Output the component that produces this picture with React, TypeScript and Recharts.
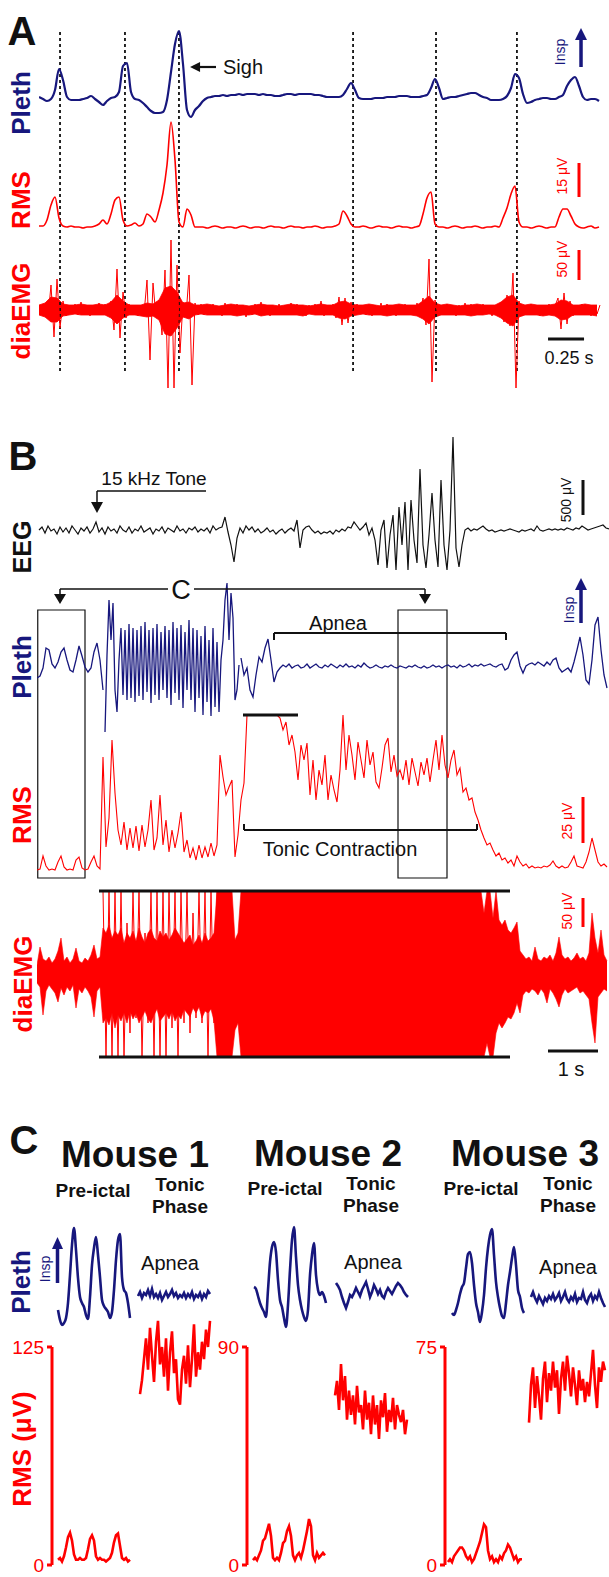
import React from 'react'
import {
  ComposedChart,
  LineChart,
  Line,
  Area,
  XAxis,
  YAxis,
  ReferenceLine,
  ReferenceArea,
  ReferenceDot,
} from 'recharts'

const NAVY = '#17177d'
const RED = '#ff0000'
const INK = '#111111'
const FONT = '"Liberation Sans", Arial, Helvetica, sans-serif'

type Pt = { t: number; v: number }
const seg = (t0: number, dt: number, vals: number[]): Pt[] => vals.map((v, i) => ({ t: t0 + i * dt, v }))
const segRange = (t0: number, dt: number, vals: [number, number][]) =>
  vals.map(([hi, lo], i) => ({ t: t0 + i * dt, r: [lo, hi] }))

// ---------- A: normal breaths + sigh (pleth / RMS every 1/36 s, EMG every 1/48 s), arbitrary units
const plethA = [
  1, -1, -3, -1, 8, 29, 18, 1, -2, -2, -2, -1, 0, 2, -1, -4, -7, -3, 0, 1, 6, 32, 35, 6, -1, -2, -5, -9, -13, -15,
  -15, -14, -2, 26, 54, 67, 34, -12, -19, -12, -8, -3, 0, 1, 2, 2, 3, 2, 3, 3, 4, 3, 4, 4, 4, 3, 4, 3, 3, 2, 2, 3, 4,
  4, 3, 4, 4, 4, 4, 3, 3, 2, 1, 1, 1, 1, 3, 9, 15, 8, 0, -1, -1, -1, 0, 0, 0, 1, 1, 1, 2, 2, 2, 1, 1, 1, 2, 3, 10, 19,
  10, -1, 0, 1, 1, 2, 3, 4, 5, 5, 3, 1, 0, -2, -2, -2, -1, 2, 10, 24, 20, 4, -5, -4, -2, -1, 0, 0, -1, -1, 1, 3, 12,
  18, 21, 12, 1, -2, -1, -1, -3,
]
const rmsA = [
  0, 0, 6, 21, 29, 8, 0, -1, 0, -1, -1, -2, -1, -1, 0, 2, 6, 2, 12, 26, 29, 6, 0, 1, 3, 0, 2, 12, 9, 4, 16, 33, 61,
  104, 66, 4, -1, 17, 11, -1, -1, -1, -2, -1, 0, -1, -2, -1, -1, -2, -1, 0, -1, -2, -1, -1, -2, -1, 0, -1, -1, -2, -1,
  0, -1, -1, -2, -1, -1, 0, -1, -2, -1, -1, 0, 2, 15, 10, 2, -1, -1, 0, -1, -2, -1, 0, -1, -1, -2, -1, 0, -1, -1, -2,
  -1, 0, 12, 28, 34, 2, -1, -1, -2, -1, 0, -1, -2, -1, -1, 0, -1, -2, -1, -1, 0, -1, 8, 18, 32, 40, 4, -1, -1, -2, -1,
  0, -1, -2, -1, -1, 9, 17, 17, 10, 2, -1, -2, -1, 0, -2, -1,
]
const emgA = [
  4, -5, 6, -8, 25, -27, 31, -18, 9, -6, 5, -4, 6, -5, 8, -5, 4, -6, 5, -4, 7, -5, 6, -4, 9, -20, 41, -28, 18, -8, 6,
  -5, 4, -6, 5, -4, 30, -50, 27, -7, 10, -25, 40, -78, 70, -78, 45, -43, 8, -6, 35, -75, 7, -5, 6, -5, 5, -4, 6, -5, 4,
  -6, 7, -4, 5, -5, 6, -4, 5, -7, 4, -5, 6, -4, 8, -5, 5, -6, 4, -5, 6, -4, 5, -5, 7, -4, 6, -5, 4, -6, 5, -4, 6, -5,
  9, -6, 5, -4, 6, -8, 13, -15, 12, -13, 8, -5, 6, -4, 5, -5, 4, -6, 5, -4, 7, -5, 6, -4, 5, -6, 4, -5, 6, -4, 5, -5,
  7, -4, 12, -15, 51, -72, 10, -6, 5, -5, 6, -4, 4, -6, 5, -5, 7, -4, 6, -5, 4, -5, 6, -4, 5, -6, 4, -5, 8, -12, 15,
  -16, 37, -78, 9, -6, 5, -4, 6, -5, 4, -6, 5, -4, 6, -5, 4, 12, -19, 17, -14, 9, -6, 5, -4, 6, -5, 4, -6, 5, -4, 5,
]
// dense EMG band [top, bottom], every 1/24 s
const emgAEnv: [number, number][] = [
  [5, -5], [7, -7], [13, -12], [12, -12], [6, -6], [5, -5], [5, -4], [6, -5], [5, -5], [5, -5],
  [6, -5], [5, -5], [8, -8], [15, -14], [9, -8], [5, -5], [5, -5], [5, -6], [7, -7], [6, -6],
  [10, -10], [22, -24], [24, -26], [18, -18], [7, -7], [8, -9], [5, -5], [5, -4], [6, -5], [5, -5],
  [4, -5], [5, -5], [6, -5], [5, -6], [5, -5], [4, -5], [5, -4], [6, -6], [5, -5], [5, -5],
  [4, -5], [5, -5], [6, -5], [5, -5], [5, -6], [4, -4], [5, -5], [6, -5], [5, -5], [5, -5],
  [8, -8], [9, -9], [6, -6], [5, -5], [5, -4], [6, -5], [5, -5], [4, -5], [5, -6], [5, -5],
  [6, -5], [5, -5], [5, -5], [5, -6], [9, -9], [14, -14], [7, -7], [5, -5], [6, -5], [5, -5],
  [4, -5], [5, -5], [5, -6], [6, -5], [5, -5], [5, -4], [5, -5], [8, -8], [13, -13], [15, -16],
  [7, -7], [5, -5], [6, -5], [5, -5], [5, -6], [5, -5], [6, -6], [10, -10], [9, -9], [5, -5],
  [5, -5], [6, -5], [5, -5], [5, -6],
]
const breathMarksA = [0.146, 0.597, 0.972, 2.181, 2.757, 3.319]

// ---------- B: audiogenic seizure (seconds, 0.06 s steps unless noted)
const eegB = [
  0, 3, -3, 4, -1, 1, -4, 3, -2, 2, -3, 4, 0, -4, 2, -1, 3, -3, 1, 8, -2, 2, -4, 3, -1, 1, -3, 4, 0, -2, 3, -3, 1, -1,
  4, -2, 0, 2, -4, 1, -1, 3, -3, 2, 0, -2, 4, -1, 1, -3, 2, 0, 3, -2, 1, -1, 2, -3, 4, 0, 2, 3, 13, -2, -15, -32, -8,
  2, -3, 4, 0, 3, -2, 1, -3, -1, 2, -2, 0, -4, -1, 1, -3, 0, 2, -1, 10, -18, 0, 3, 4, 0, -3, -1, -4, -2, -3, -1, -4,
  0, -2, 1, -1, 3, 2, 8, 4, 0, 3, 7, -5, 2, -10, -35, 0, 10, -38, -5, 15, -40, 23, -15, 28, -40, 30, -10, -33, 61,
  -15, -38, -5, 37, -10, -37, 50, -15, -40, 0, 93, -18, -37, -15, 0, 2, -1, 1, 0, 2, 4, 1, -1, 0, -2, -1, 0, -1, 0, 1,
  0, -1, -2, 0, -1, 0, 1, -1, 4, 0, -1, 0, 1, 0, 1, 0, 1, 0, 2, 1, 0, 2, 1, 4, 2, 0, 1, 2, 3, 4, 5, 2, 1,
]
const plethBPre = [-11, -9, -1, 19, 17, 3, -1, 5, 15, 19, 7, -3, -5, 7, 21, 11, 0, -5, -1, 15, 24, 7, -23]
// clonic / running phase, 0.04 s steps
const plethBClonic = [
  -65, 12, 67, 27, 64, -23, -45, 7, 39, -28, 37, -33, 43, -31, 39, -35, 37, -29, 41, -33, 45, -25, 37, -36, 39, -28,
  43, -33, 35, -23, 41, -31, 37, -38, 45, -26, 39, -33, 42, -41, 35, -23, 47, -33, 39, -45, 37, -31, 31, -48, 41, -35,
  27, -49, 39, -40, 25, -45, 7, 27, 67, 84, 27, 74, 49, -33, -23, 2,
]
const plethBPost = [
  9, -8, -1, -23, -30, -8, 10, 5, 19, 28, 7, -15, -5, -1, 2, 0, 3, -1, 1, 2, -1, 0, 3, -1, 1, 3, 0, -1, 2, 0, 3, 1,
  -1, 2, 0, 3, 0, 1, -1, 2, 0, 4, 1, -1, 0, 2, 0, -1, 1, 0, 2, 0, -1, 1, 0, -1, 1, 0, 2, 0, -1, 1, -1, 0, 2, 0, 1, -1,
  1, 2, 0, 1, -1, 2, 0, 1, 3, 0, 2, 1, 3, 1, 2, 3, 1, 0, 2, 3, -3, -1, 7, 12, 15, 1, -6, 1, 3, 4, 2, 5, 3, 1, 5, 2, 7,
  9, -1, -5, -3, -1, -5, 5, 17, 30, 12, -13, -17, 7, 42, 50, 17, -8, -21,
]
const rmsB = [
  0, 1, 14, 4, 0, 1, 0, 8, 14, 3, 0, 1, 0, 10, 13, 2, 0, 1, 8, 14, 4, 1, 113, 23, 52, 130, 77, 40, 25, 48, 20, 42, 22,
  44, 19, 45, 23, 40, 70, 20, 32, 75, 25, 50, 18, 40, 22, 37, 58, 18, 30, 12, 22, 10, 25, 12, 23, 13, 27, 14, 25, 115,
  93, 75, 83, 90, 13, 35, 70, 87, 155, 155, 155, 155, 155, 155, 155, 155, 155, 155, 155, 152, 140, 148, 125, 135, 118,
  90, 125, 110, 127, 75, 110, 70, 100, 85, 115, 70, 95, 80, 68, 100, 155, 100, 135, 115, 90, 128, 110, 92, 130, 105,
  118, 88, 82, 102, 125, 132, 98, 115, 94, 100, 90, 110, 85, 112, 98, 84, 108, 95, 112, 88, 110, 130, 100, 135, 105,
  92, 110, 120, 95, 102, 78, 82, 70, 72, 58, 50, 40, 32, 25, 27, 20, 14, 17, 10, 12, 7, 10, 4, 14, 8, 4, 6, 2, 4, 2, 3,
  2, 4, 3, 5, 9, 4, 2, 4, 2, 3, 8, 14, 4, 3, 2, 8, 18, 32, 20, 8, 4, 6, 3,
]
// EMG envelope [top, bottom]
const emgBPre: [number, number][] = [
  [8, -10], [26, -14], [14, -42], [12, -18], [16, -12], [10, -16], [14, -20], [22, -29], [35, -15], [12, -22],
  [16, -14], [10, -18], [14, -12], [25, -35], [12, -16], [10, -20], [15, -14], [12, -18], [18, -24], [28, -44],
  [14, -18], [16, -14], [45, -50], [40, -45], [48, -52], [35, -40], [42, -55], [38, -42], [45, -48], [30, -40],
  [40, -50], [35, -38], [42, -46], [32, -40], [45, -50], [36, -44], [30, -38], [40, -46], [44, -50], [35, -42],
  [32, -36], [42, -48], [36, -44], [40, -40], [33, -46], [38, -38], [45, -48], [40, -42], [35, -46], [30, -36],
  [34, -40], [38, -44], [28, -35], [32, -40], [38, -34], [30, -45], [40, -38], [32, -40], [35, -36], [40, -48],
  [82, -84], [82, -84], [82, -84], [82, -84], [82, -84], [82, -84], [33, -57], [40, -50],
]
// single large EMG spikes in the running phase (1.32 s on, 0.06 s steps)
const emgBSpikes = [
  82, -84, 82, -84, 82, -84, 82, -84, 50, -60, 82, -45, 82, -84, 40, -50, 82, -84, 82, -84, 82, -84, 82, -55, 82, -84,
  82, -50, 82, -60, 60, -45, 82, -50, 82, -84, 82, -50, 82,
]
const emgBTonic: [number, number][] = [[82, -84], [82, -84]]
const emgBPost: [number, number][] = [
  [60, -84], [82, -70], [82, -84], [55, -84], [82, -60], [53, -50], [48, -55], [53, -50], [43, -44], [40, -46],
  [45, -40], [51, -30], [22, -40], [18, -22], [14, -18], [16, -20], [12, -16], [26, -18], [14, -22], [12, -16],
  [16, -20], [14, -30], [18, -16], [12, -20], [20, -26], [36, -34], [18, -22], [14, -16], [16, -20], [12, -18],
  [15, -16], [20, -14], [14, -20], [16, -18], [12, -22], [20, -26], [60, -50], [35, -70], [20, -24], [43, -20],
  [18, -16], [12, -18],
]

// ---------- C: pre-ictal vs tonic phase, 0.02 s steps; RMS in µV
const m1PlethPre = [
  -10, -20, -25, -23, -18, -3, 25, 55, 72, 50, 22, 3, -3, -7, -15, -19, 3, 35, 52, 63, 45, 23, 0, -6, -9, -12, -18,
  -12, 10, 40, 60, 66, 23, 10, 7, -3, -18,
]
const m1PlethTonic = [
  4, 8, 2, 7, 5, 10, 4, 11, 3, 6, 2, 7, 0, 4, 8, 3, 6, 10, 4, 7, 2, 5, 3, 7, 2, 6, 3, 8, 1, 5, 3, 7, 1, 6, 3, 9, 6,
]
const m2PlethPre = [
  13, 11, 4, -3, -8, -12, -17, 10, 38, 53, 58, 48, 20, 0, -7, -18, -27, -5, 30, 60, 73, 43, 15, 0, -10, -17, -21, -10,
  25, 45, 57, 25, 10, 5, 8, 4, -3,
]
const m2PlethTonic = [
  17, 14, 10, 3, -3, -8, -2, 5, 3, 7, 12, 8, 4, 10, 14, 18, 11, 3, 8, 15, 11, 6, 10, 4, 2, 8, 12, 9, 6, 10, 14, 17, 15,
  12, 8, 5, 3,
]
const m3PlethPre = [
  -13, -15, -10, -3, 6, 13, 17, 32, 46, 48, 37, 15, -3, -12, -22, -12, 5, 32, 52, 65, 71, 45, 18, 3, -8, -16, -18, -3,
  15, 28, 42, 53, 35, 10, 3, -8, -13,
]
const m3PlethTonic = [
  3, 8, 2, -2, 4, 0, -4, 2, -1, 4, 1, 6, 0, 3, 7, -1, 3, 8, 1, -2, 3, 0, 6, -2, 2, 1, 8, 0, -3, 3, 6, -1, 4, 1, 8, 2,
  -3, -7,
]
const m1RmsPre = [
  3, 4, 2, 5, 10, 16, 18.5, 14, 6, 3, 3, 4, 3, 3, 4, 9, 15, 17, 14, 5, 3, 4, 3, 3, 2, 3, 4, 7, 13, 17, 18, 11, 4, 3, 4,
  2, 3,
]
const m1RmsTonic = [
  98, 106, 118, 130, 112, 136, 120, 105, 128, 140, 115, 125, 108, 130, 100, 122, 134, 110, 118, 95, 92, 112, 120, 104,
  126, 102, 118, 138, 108, 122, 112, 128, 118, 135, 125, 140,
]
const m2RmsPre = [
  2, 3, 2, 4, 6, 10, 11, 14, 17, 12, 3, 2, 3, 2, 5, 9, 10, 14, 16, 12, 4, 2, 4, 5, 3, 6, 10, 14, 19, 16, 4, 2, 5, 3, 4,
  5, 4,
]
const m2RmsTonic = [
  70, 76, 64, 83, 68, 78, 60, 72, 62, 70, 58, 74, 63, 66, 56, 72, 60, 67, 54, 70, 58, 66, 52, 68, 61, 71, 55, 64, 59,
  69, 56, 66, 62, 59, 64, 54, 60,
]
const m3RmsPre = [
  1, 2, 1, 3, 4, 5, 6, 6, 5, 3, 2, 3, 1, 2, 4, 6, 8, 11, 14, 13, 5, 2, 3, 1, 2, 1, 3, 2, 4, 5, 7, 6, 4, 2, 3, 1, 2, 2,
]
const m3RmsTonic = [
  49, 62, 68, 54, 65, 58, 50, 64, 70, 56, 66, 60, 70, 61, 67, 52, 64, 70, 60, 72, 66, 58, 68, 62, 55, 67, 60, 64, 56,
  63, 58, 66, 74, 62, 54, 68, 63, 70, 67,
]

const mice = [
  { name: 'Mouse 1', axisX: 52, max: 125, pp: [0.06, m1PlethPre], pt: [0.86, m1PlethTonic], rp: [0.06, m1RmsPre], rt: [0.88, m1RmsTonic], insp: true },
  { name: 'Mouse 2', axisX: 247, max: 90, pp: [0.07, m2PlethPre], pt: [0.89, m2PlethTonic], rp: [0.06, m2RmsPre], rt: [0.88, m2RmsTonic], insp: false },
  { name: 'Mouse 3', axisX: 445, max: 75, pp: [0.07, m3PlethPre], pt: [0.86, m3PlethTonic], rp: [0.03, m3RmsPre], rt: [0.84, m3RmsTonic], insp: false },
] as const

const NO_MARGIN = { top: 0, right: 0, bottom: 0, left: 0 }
const AXIS_H = 218 // px between 0 and the top tick of the panel C RMS axes
const OVER_H = 265 // taller overlay so tonic RMS may rise past the top tick

function head(dir: 'up' | 'down' | 'left', color: string, w = 6, h = 11) {
  return (p: any) => {
    const { cx, cy } = p
    if (cx == null || cy == null) return <g />
    let pts = ''
    if (dir === 'up') pts = `${cx},${cy} ${cx - w},${cy + h} ${cx + w},${cy + h}`
    else if (dir === 'down') pts = `${cx},${cy} ${cx - w},${cy - h} ${cx + w},${cy - h}`
    else pts = `${cx},${cy} ${cx + h},${cy - w} ${cx + h},${cy + w}`
    return <polygon points={pts} fill={color} />
  }
}

function Lbl(props: { x: number; y: number; s: number; w?: number; c?: string; r?: number; children: React.ReactNode }) {
  const { x, y, s, w = 400, c = INK, r = 0, children } = props
  return (
    <div
      style={{
        position: 'absolute',
        left: x,
        top: y,
        transform: `translate(-50%, -50%) rotate(${r}deg)`,
        fontSize: s,
        fontWeight: w,
        color: c,
        lineHeight: 1,
        whiteSpace: 'nowrap',
      }}
    >
      {children}
    </div>
  )
}

const seg2 = (a: number, b: number, c: number, d: number) => [
  { x: a, y: b },
  { x: c, y: d },
]

function PanelA() {
  return (
    <div style={{ position: 'absolute', left: 39, top: 0 }}>
      <ComposedChart width={562} height={400} margin={NO_MARGIN} data={segRange(0, 1 / 24, emgAEnv)}>
        <XAxis type="number" dataKey="t" domain={[0, 562 / 144]} hide allowDataOverflow />
        <YAxis yAxisId="p" hide type="number" domain={[-302, 98]} allowDataOverflow />
        <YAxis yAxisId="r" hide type="number" domain={[-174, 226]} allowDataOverflow />
        <YAxis yAxisId="e" hide type="number" domain={[-90, 310]} allowDataOverflow />
        {breathMarksA.map((t) => (
          <ReferenceLine key={t} yAxisId="p" segment={seg2(t, 66, t, -275)} stroke={INK} strokeWidth={1.8} strokeDasharray="3 3" />
        ))}
        <Area yAxisId="e" dataKey="r" type="linear" stroke={RED} strokeWidth={0.8} fill={RED} fillOpacity={1} isAnimationActive={false} />
        <Line yAxisId="e" data={seg(0, 1 / 48, emgA)} dataKey="v" type="linear" stroke={RED} strokeWidth={1} dot={false} isAnimationActive={false} />
        <Line yAxisId="r" data={seg(0, 1 / 36, rmsA)} dataKey="v" type="monotone" stroke={RED} strokeWidth={1.6} dot={false} isAnimationActive={false} />
        <Line yAxisId="p" data={seg(0, 1 / 36, plethA)} dataKey="v" type="monotone" stroke={NAVY} strokeWidth={2.2} dot={false} isAnimationActive={false} />
        {/* sigh pointer */}
        <ReferenceLine yAxisId="p" segment={seg2(1.07, 31, 1.229, 31)} stroke={INK} strokeWidth={2.2} />
        <ReferenceDot yAxisId="p" x={1.049} y={31} r={0} shape={head('left', INK, 5, 10)} />
        {/* scale bars */}
        <ReferenceLine yAxisId="p" segment={seg2(3.764, 31, 3.764, 59)} stroke={NAVY} strokeWidth={3.5} />
        <ReferenceDot yAxisId="p" x={3.764} y={70} r={0} shape={head('up', NAVY, 6, 12)} />
        <ReferenceLine yAxisId="r" segment={seg2(3.75, 29, 3.75, 63)} stroke={RED} strokeWidth={3} />
        <ReferenceLine yAxisId="e" segment={seg2(3.75, 30, 3.75, 60)} stroke={RED} strokeWidth={3} />
        <ReferenceLine yAxisId="e" segment={seg2(3.535, -29, 3.785, -29)} stroke={INK} strokeWidth={3} />
      </ComposedChart>
    </div>
  )
}

function PanelB() {
  const emgB = [...segRange(0, 0.06, emgBPre), ...segRange(4.08, 4.8, emgBTonic), ...segRange(8.94, 0.06, emgBPost)]
  return (
    <>
      <div style={{ position: 'absolute', left: 37, top: 430 }}>
        <ComposedChart width={572} height={450} margin={NO_MARGIN}>
          <XAxis type="number" dataKey="t" domain={[0, 11.44]} hide allowDataOverflow />
          <YAxis yAxisId="g" hide type="number" domain={[-350, 100]} allowDataOverflow />
          <YAxis yAxisId="p" hide type="number" domain={[-213, 237]} allowDataOverflow />
          <YAxis yAxisId="r" hide type="number" domain={[-10, 440]} allowDataOverflow />
          <ReferenceArea yAxisId="p" x1={0.015} x2={0.96} y1={-211} y2={57} fill="#fff" fillOpacity={0} stroke={INK} strokeWidth={1.2} />
          <ReferenceArea yAxisId="p" x1={7.22} x2={8.2} y1={-211} y2={57} fill="#fff" fillOpacity={0} stroke={INK} strokeWidth={1.2} />
          <Line yAxisId="g" data={seg(0.04, 0.06, eegB)} dataKey="v" type="linear" stroke={INK} strokeWidth={1.2} dot={false} isAnimationActive={false} />
          <Line yAxisId="p" data={seg(0, 0.06, plethBPre)} dataKey="v" type="linear" stroke={NAVY} strokeWidth={1.3} dot={false} isAnimationActive={false} />
          <Line yAxisId="p" data={seg(1.36, 0.04, plethBClonic)} dataKey="v" type="linear" stroke={NAVY} strokeWidth={1.3} dot={false} isAnimationActive={false} />
          <Line yAxisId="p" data={seg(4.08, 0.06, plethBPost)} dataKey="v" type="linear" stroke={NAVY} strokeWidth={1.3} dot={false} isAnimationActive={false} />
          <Line yAxisId="r" data={seg(0, 0.06, rmsB)} dataKey="v" type="linear" stroke={RED} strokeWidth={1.1} dot={false} isAnimationActive={false} />
          {/* tone onset */}
          <ReferenceLine yAxisId="g" segment={seg2(1.2, 39, 3.38, 39)} stroke={INK} strokeWidth={1.5} />
          <ReferenceLine yAxisId="g" segment={seg2(1.2, 39, 1.2, 27)} stroke={INK} strokeWidth={1.5} />
          <ReferenceDot yAxisId="g" x={1.2} y={17} r={0} shape={head('down', INK, 6, 11)} />
          <ReferenceLine yAxisId="g" segment={seg2(10.92, 15, 10.92, 50)} stroke={INK} strokeWidth={3} />
          {/* panel C pointer */}
          <ReferenceLine yAxisId="p" segment={seg2(0.46, 78, 2.62, 78)} stroke={INK} strokeWidth={1.5} />
          <ReferenceLine yAxisId="p" segment={seg2(3.14, 78, 7.76, 78)} stroke={INK} strokeWidth={1.5} />
          <ReferenceLine yAxisId="p" segment={seg2(0.46, 78, 0.46, 71)} stroke={INK} strokeWidth={1.5} />
          <ReferenceLine yAxisId="p" segment={seg2(7.76, 78, 7.76, 71)} stroke={INK} strokeWidth={1.5} />
          <ReferenceDot yAxisId="p" x={0.46} y={63} r={0} shape={head('down', INK, 6, 10)} />
          <ReferenceDot yAxisId="p" x={7.76} y={63} r={0} shape={head('down', INK, 6, 10)} />
          {/* apnea bracket */}
          <ReferenceLine yAxisId="p" segment={seg2(4.74, 34, 9.38, 34)} stroke={INK} strokeWidth={2} />
          <ReferenceLine yAxisId="p" segment={seg2(4.74, 34, 4.74, 27)} stroke={INK} strokeWidth={2} />
          <ReferenceLine yAxisId="p" segment={seg2(9.38, 34, 9.38, 27)} stroke={INK} strokeWidth={2} />
          <ReferenceLine yAxisId="p" segment={seg2(10.88, 44, 10.88, 78)} stroke={NAVY} strokeWidth={3.5} />
          <ReferenceDot yAxisId="p" x={10.88} y={89} r={0} shape={head('up', NAVY, 6, 12)} />
          {/* tonic contraction */}
          <ReferenceLine yAxisId="r" segment={seg2(4.12, 155, 5.22, 155)} stroke={INK} strokeWidth={3} />
          <ReferenceLine yAxisId="r" segment={seg2(4.14, 40, 8.8, 40)} stroke={INK} strokeWidth={2} />
          <ReferenceLine yAxisId="r" segment={seg2(4.14, 40, 4.14, 46)} stroke={INK} strokeWidth={2} />
          <ReferenceLine yAxisId="r" segment={seg2(8.8, 40, 8.8, 46)} stroke={INK} strokeWidth={2} />
          <ReferenceLine yAxisId="r" segment={seg2(10.92, 27, 10.92, 73)} stroke={RED} strokeWidth={3} />
        </ComposedChart>
      </div>
      <div style={{ position: 'absolute', left: 37, top: 880 }}>
        <ComposedChart width={572} height={190} data={emgB} margin={NO_MARGIN}>
          <XAxis type="number" dataKey="t" domain={[0, 11.44]} hide allowDataOverflow />
          <YAxis hide type="number" domain={[-97, 93]} allowDataOverflow />
          <Area dataKey="r" type="linear" stroke={RED} strokeWidth={0.6} fill={RED} fillOpacity={1} isAnimationActive={false} />
          <Line data={seg(1.32, 0.06, emgBSpikes)} dataKey="v" type="linear" stroke={RED} strokeWidth={1} dot={false} isAnimationActive={false} />
          <ReferenceLine segment={seg2(1.24, 82, 9.46, 82)} stroke={INK} strokeWidth={3} />
          <ReferenceLine segment={seg2(1.24, -84, 9.46, -84)} stroke={INK} strokeWidth={3} />
          <ReferenceLine segment={seg2(10.92, 46, 10.92, 75)} stroke={RED} strokeWidth={3} />
          <ReferenceLine segment={seg2(10.22, -78, 11.22, -78)} stroke={INK} strokeWidth={3} />
        </ComposedChart>
      </div>
    </>
  )
}

function MouseCol({ m }: { m: (typeof mice)[number] }) {
  return (
    <>
      <div style={{ position: 'absolute', left: m.axisX, top: 1215 }}>
        <LineChart width={165} height={120} margin={NO_MARGIN}>
          <XAxis type="number" dataKey="t" domain={[0, 1.65]} hide allowDataOverflow />
          <YAxis hide type="number" domain={[-35, 85]} allowDataOverflow />
          <Line data={seg(m.pp[0], 0.02, m.pp[1] as number[])} dataKey="v" type="monotone" stroke={NAVY} strokeWidth={2.6} dot={false} isAnimationActive={false} />
          <Line data={seg(m.pt[0], 0.02, m.pt[1] as number[])} dataKey="v" type="linear" stroke={NAVY} strokeWidth={2.6} dot={false} isAnimationActive={false} />
          {m.insp && <ReferenceLine segment={seg2(0.055, 17, 0.055, 52)} stroke={NAVY} strokeWidth={3.5} />}
          {m.insp && <ReferenceDot x={0.055} y={63} r={0} shape={head('up', NAVY, 5.5, 12)} />}
        </LineChart>
      </div>
      <div style={{ position: 'absolute', left: m.axisX - 45, top: 1337 }}>
        <LineChart width={210} height={AXIS_H + 22} margin={{ top: 10, right: 0, bottom: 12, left: 0 }}>
          <XAxis type="number" dataKey="t" domain={[0, 1.65]} hide allowDataOverflow />
          <YAxis
            type="number"
            domain={[0, m.max]}
            ticks={[0, m.max]}
            interval={0}
            width={45}
            tickSize={5}
            tickMargin={3}
            axisLine={{ stroke: RED, strokeWidth: 3 }}
            tickLine={{ stroke: RED, strokeWidth: 3 }}
            tick={{ fill: RED, fontSize: 19, fontFamily: FONT }}
            allowDataOverflow
          />
          <Line data={seg(m.rp[0], 0.02, m.rp[1] as number[])} dataKey="v" type="linear" stroke={RED} strokeWidth={2.6} dot={false} isAnimationActive={false} />
        </LineChart>
      </div>
      {/* same µV scale, taller box: the tonic trace is not clipped at the top tick */}
      <div style={{ position: 'absolute', left: m.axisX, top: 1347 + AXIS_H - OVER_H }}>
        <LineChart width={165} height={OVER_H} margin={NO_MARGIN}>
          <XAxis type="number" dataKey="t" domain={[0, 1.65]} hide />
          <YAxis hide type="number" domain={[0, (m.max * OVER_H) / AXIS_H]} />
          <Line data={seg(m.rt[0], 0.02, m.rt[1] as number[])} dataKey="v" type="linear" stroke={RED} strokeWidth={2.6} dot={false} isAnimationActive={false} />
        </LineChart>
      </div>
    </>
  )
}

export default function App() {
  return (
    <div
      style={{
        position: 'absolute',
        left: 0,
        top: 0,
        width: 609,
        height: 1577,
        background: '#fff',
        overflow: 'hidden',
        fontFamily: FONT,
      }}
    >
      <PanelA />
      <PanelB />
      {mice.map((m) => (
        <MouseCol key={m.name} m={m} />
      ))}

      {/* A */}
      <Lbl x={22} y={31} s={40} w={700}>A</Lbl>
      <Lbl x={21} y={103} s={26} w={700} c={NAVY} r={-90}>Pleth</Lbl>
      <Lbl x={21} y={200} s={26} w={700} c={RED} r={-90}>RMS</Lbl>
      <Lbl x={21} y={311} s={26} w={700} c={RED} r={-90}>diaEMG</Lbl>
      <Lbl x={243} y={67} s={20}>Sigh</Lbl>
      <Lbl x={560} y={52} s={14} c={NAVY} r={-90}>Insp</Lbl>
      <Lbl x={562} y={176} s={14} c={RED} r={-90}>15 μV</Lbl>
      <Lbl x={562} y={259} s={14} c={RED} r={-90}>50 μV</Lbl>
      <Lbl x={569} y={358} s={18}>0.25 s</Lbl>

      {/* B */}
      <Lbl x={23} y={456} s={40} w={700}>B</Lbl>
      <Lbl x={154} y={478} s={19}>15 kHz Tone</Lbl>
      <Lbl x={566} y={500} s={14} r={-90}>500 μV</Lbl>
      <Lbl x={22} y={547} s={25} w={700} r={-90}>EEG</Lbl>
      <Lbl x={181} y={590} s={27}>C</Lbl>
      <Lbl x={338} y={623} s={20}>Apnea</Lbl>
      <Lbl x={569} y={610} s={14} c={NAVY} r={-90}>Insp</Lbl>
      <Lbl x={22} y={667} s={26} w={700} c={NAVY} r={-90}>Pleth</Lbl>
      <Lbl x={22} y={815} s={26} w={700} c={RED} r={-90}>RMS</Lbl>
      <Lbl x={340} y={849} s={20}>Tonic Contraction</Lbl>
      <Lbl x={567} y={821} s={14} c={RED} r={-90}>25 μV</Lbl>
      <Lbl x={23} y={984} s={26} w={700} c={RED} r={-90}>diaEMG</Lbl>
      <Lbl x={567} y={911} s={14} c={RED} r={-90}>50 μV</Lbl>
      <Lbl x={571} y={1069} s={20}>1 s</Lbl>

      {/* C */}
      <Lbl x={24} y={1140} s={40} w={700}>C</Lbl>
      <Lbl x={135} y={1154} s={37} w={700}>Mouse 1</Lbl>
      <Lbl x={328} y={1153} s={37} w={700}>Mouse 2</Lbl>
      <Lbl x={525} y={1153} s={37} w={700}>Mouse 3</Lbl>
      <Lbl x={93} y={1190} s={19} w={700}>Pre-ictal</Lbl>
      <Lbl x={180} y={1184} s={19} w={700}>Tonic</Lbl>
      <Lbl x={180} y={1206} s={19} w={700}>Phase</Lbl>
      <Lbl x={285} y={1188} s={19} w={700}>Pre-ictal</Lbl>
      <Lbl x={371} y={1183} s={19} w={700}>Tonic</Lbl>
      <Lbl x={371} y={1205} s={19} w={700}>Phase</Lbl>
      <Lbl x={481} y={1188} s={19} w={700}>Pre-ictal</Lbl>
      <Lbl x={568} y={1183} s={19} w={700}>Tonic</Lbl>
      <Lbl x={568} y={1205} s={19} w={700}>Phase</Lbl>
      <Lbl x={170} y={1263} s={20}>Apnea</Lbl>
      <Lbl x={373} y={1262} s={20}>Apnea</Lbl>
      <Lbl x={568} y={1267} s={20}>Apnea</Lbl>
      <Lbl x={21} y={1282} s={26} w={700} c={NAVY} r={-90}>Pleth</Lbl>
      <Lbl x={45} y={1269} s={14} c={NAVY} r={-90}>Insp</Lbl>
      <Lbl x={22} y={1449} s={26} w={700} c={RED} r={-90}>RMS (μV)</Lbl>
    </div>
  )
}
